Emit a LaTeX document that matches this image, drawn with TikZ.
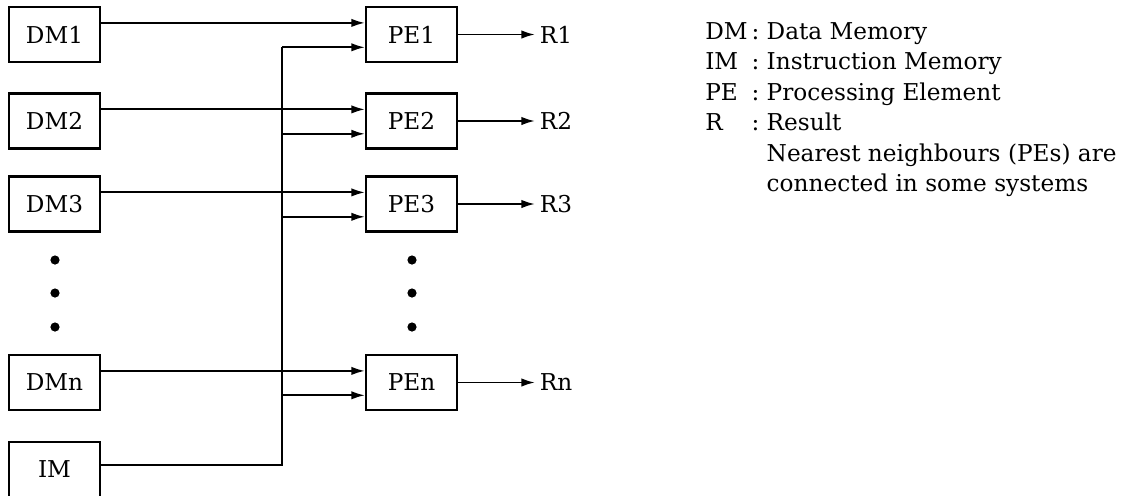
\documentclass[tikz,border=0pt]{standalone}
\usepackage{fontspec}
\setmainfont{DejaVu Serif}
\usetikzlibrary{arrows.meta}
\tikzset{
  unit/.style={draw, line width=1.5pt, minimum width=2.275cm, minimum height=1.375cm, inner sep=0pt},
  wire/.style={line width=1.35pt},
  feed/.style={wire, -{Latex[length=3.4mm,width=2.1mm]}},
  dot/.style={circle, fill, inner sep=0pt, minimum size=2.3mm}
}
\begin{document}
\begin{tikzpicture}[x=0.025cm, y=-0.025cm, font=\fontsize{16.5}{21.7}\selectfont]
\useasboundingbox (0,0) rectangle (1132,495);
% memories, processing elements and results
\foreach \i/\y in {1/34.5, 2/121, 3/204, n/382.5}{
  \node[unit] (dm\i) at (54.5,\y) {DM\i};
  \node[unit] (pe\i) at (411.5,\y) {PE\i};
  \node[anchor=west] (r\i) at (535,\y) {R\i};
  \coordinate (in\i) at ([yshift=-3.2mm]pe\i.west);
}
\node[unit] (im) at (54.5,469.5) {IM};
\foreach \y in {260,293,327}{
  \node[dot] (dl\y) at (55,\y) {};
  \node[dot] (dr\y) at (412,\y) {};
}
% data paths
\foreach \i in {1,2,3,n}{
  \draw[feed] ([yshift=2.9mm]dm\i.east) -- ([yshift=2.9mm]pe\i.west);
  \draw[feed] (pe\i.east) -- (r\i.west);
}
% instruction bus
\coordinate (bus) at (282,465);
\draw[wire] (im.east |- bus) -- (bus) -- (bus |- in1);
\foreach \i in {1,2,3,n}
  \draw[feed] (bus |- in\i) -- (in\i);
% legend
\node[anchor=base west, inner sep=0pt] (key) at (705,39) {%
  \begin{tabular}[t]{@{}l@{\,}l@{\ }l@{}}
  DM & : & Data Memory\\
  IM & : & Instruction Memory\\
  PE & : & Processing Element\\
  R  & : & Result\\
     &   & Nearest neighbours (PEs) are\\
     &   & connected in some systems
  \end{tabular}};
\end{tikzpicture}
\end{document}
